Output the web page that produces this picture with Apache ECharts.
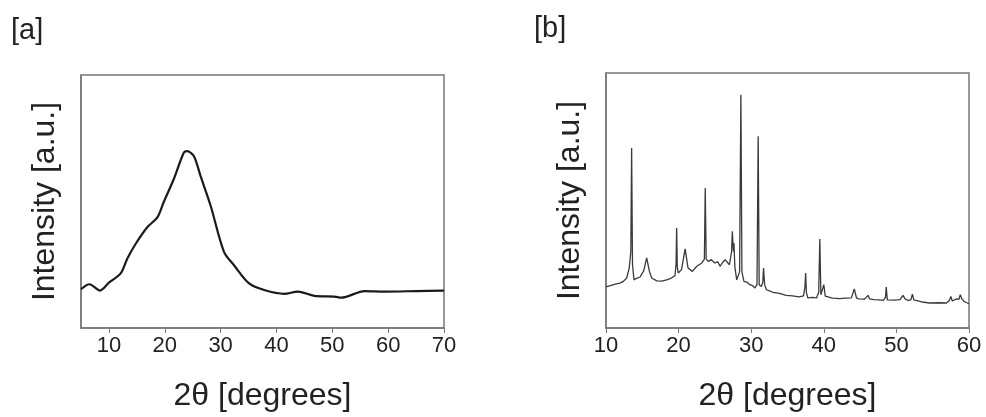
<!DOCTYPE html>
<html>
<head>
<meta charset="utf-8">
<script src="https://cdn.jsdelivr.net/npm/echarts@6/dist/echarts.min.js"></script>
<style>html,body{margin:0;padding:0;background:#fff}#c{width:986px;height:417px}</style>
</head>
<body>
<div id="c"></div>
<script>
// Panel [a] : amorphous pattern
const angleA = [5, 6.5, 8.4, 10, 12.1, 13.3, 14.8, 16.9, 18.7, 19.8, 21.6, 23.4, 24.0, 25.2, 26.4, 28.2, 30.6, 32.4, 35.1, 37.8, 41.4, 43.8, 46.8, 50.4, 51.6, 55.8, 59.4, 65, 70];
const intensityA = [15.3, 17.3, 14.8, 17.9, 21.6, 27.5, 33.3, 39.9, 43.8, 49.7, 58.8, 69.3, 69.9, 68.0, 60.1, 48.4, 30.1, 24.8, 17.6, 15.0, 13.5, 14.4, 12.7, 12.4, 12.0, 14.6, 14.4, 14.6, 14.8];
// Panel [b] : crystalline pattern
const angleB = [10, 10.6, 11.3, 11.9, 12.4, 12.85, 13.2, 13.42, 13.53, 13.65, 13.85, 14.3, 14.7, 15.2, 15.6, 16.0, 16.3, 17.0, 17.7, 18.35, 19.0, 19.5, 19.65, 19.73, 19.82, 19.95, 20.4, 20.9, 21.3, 21.9, 22.5, 23.2, 23.55, 23.67, 23.8, 24.1, 24.5, 25.0, 25.4, 25.7, 26.1, 26.4, 27.0, 27.3, 27.4, 27.55, 27.62, 27.75, 28.0, 28.4, 28.58, 28.72, 29.0, 29.4, 29.8, 30.2, 30.5, 30.8, 30.96, 31.1, 31.4, 31.6, 31.7, 31.85, 32.1, 32.5, 33.0, 33.9, 34.8, 35.7, 36.6, 37.2, 37.4, 37.5, 37.6, 37.8, 38.4, 39.0, 39.3, 39.45, 39.6, 39.8, 40.0, 40.2, 40.4, 41.2, 42.2, 43.0, 43.8, 44.2, 44.5, 44.8, 45.6, 46.1, 46.3, 46.9, 47.6, 48.2, 48.5, 48.6, 48.75, 48.9, 49.7, 50.5, 50.9, 51.2, 51.6, 52.0, 52.2, 52.4, 52.6, 53.5, 54.6, 55.8, 56.9, 57.3, 57.5, 57.7, 57.9, 58.3, 58.6, 58.8, 59.0, 59.3, 59.6, 60];
const intensityB = [16.1, 16.6, 17.2, 17.6, 18.3, 19.6, 23.5, 30, 70.6, 25, 18.9, 19.6, 20.0, 22.5, 27.5, 22, 19.6, 18.5, 18.4, 18.9, 19.6, 20.5, 25, 39.2, 24, 21.6, 22.9, 31.0, 23.5, 22.2, 24.2, 25.5, 27, 54.9, 27, 26.1, 26.8, 25.5, 26.0, 24.2, 25.8, 26.8, 24.8, 30, 37.9, 30, 33.3, 24, 18.9, 22, 91.5, 22, 18.3, 18.0, 17.0, 16.6, 15.7, 17, 75.2, 17, 16.3, 18, 23.5, 17, 15.0, 14.6, 14.0, 13.6, 12.8, 12.6, 12.2, 12.6, 16, 21.6, 14, 11.8, 12.0, 11.8, 14, 34.9, 13, 12.4, 17, 12.5, 11.9, 11.7, 11.5, 11.7, 11.8, 15.3, 11.8, 11.4, 11.3, 12.8, 11.4, 11.1, 11.0, 10.8, 12, 16.1, 11, 10.7, 10.9, 11.1, 12.8, 11.4, 10.8, 11, 13.3, 11, 10.5, 10.2, 9.8, 9.9, 9.8, 10.8, 12.4, 10.6, 10.5, 11.4, 11.2, 13.1, 11.5, 10.5, 10.0, 9.5];
const ticksA = [10, 20, 30, 40, 50, 60, 70];
const panelLabels = ['[a]', '[b]'];
const xName = '2θ [degrees]';
const yName = 'Intensity [a.u.]';

const font = 'Liberation Sans, Arial, sans-serif';
const chart = echarts.init(document.getElementById('c'));
function xAxis(gi, min, max) {
  return {
    type: 'value', gridIndex: gi, min: min, max: max, interval: 10,
    name: xName, nameLocation: 'middle', nameGap: 52,
    nameTextStyle: { fontFamily: font, fontSize: 32, color: '#222' },
    axisLine: { show: true, lineStyle: { color: '#777', width: 1.5 } },
    axisTick: { show: true, inside: false, length: 5, lineStyle: { color: '#777' } },
    axisLabel: { fontFamily: font, fontSize: 22, color: '#222', margin: 7,
      formatter: v => String(v) },
    splitLine: { show: false }
  };
}
function yAxis(gi) {
  return {
    type: 'value', gridIndex: gi, min: 0, max: 100,
    name: yName, nameLocation: 'middle', nameGap: 20, nameRotate: 90,
    nameTextStyle: { fontFamily: font, fontSize: 32, color: '#222' },
    axisLine: { show: true, lineStyle: { color: '#777', width: 1.5 } },
    axisTick: { show: false }, axisLabel: { show: false }, splitLine: { show: false }
  };
}
const xa = xAxis(0, 5, 70);
xa.axisLabel.customValues = ticksA; xa.axisTick.customValues = ticksA;
const xb = xAxis(1, 10, 60);
chart.setOption({
  animation: false,
  backgroundColor: '#fff',
  title: [
    { text: panelLabels[0], left: 6, top: 11, textStyle: { fontFamily: font, fontSize: 29, fontWeight: 'normal', color: '#222' } },
    { text: panelLabels[1], left: 529, top: 9, textStyle: { fontFamily: font, fontSize: 29, fontWeight: 'normal', color: '#222' } }
  ],
  grid: [
    { left: 81, top: 75, width: 363, height: 255, show: true, borderColor: '#777', borderWidth: 1.5, backgroundColor: 'transparent' },
    { left: 606, top: 73, width: 363, height: 255, show: true, borderColor: '#777', borderWidth: 1.5, backgroundColor: 'transparent' }
  ],
  xAxis: [xa, xb],
  yAxis: [yAxis(0), yAxis(1)],
  series: [
    { type: 'line', xAxisIndex: 0, yAxisIndex: 0, showSymbol: false, smooth: 0.3,
      data: angleA.map((x, i) => [x, intensityA[i]]),
      lineStyle: { color: '#1a1a1a', width: 2.2 } },
    { type: 'line', xAxisIndex: 1, yAxisIndex: 1, showSymbol: false,
      data: angleB.map((x, i) => [x, intensityB[i]]),
      lineStyle: { color: '#3a3a3a', width: 1.3 } }
  ]
});
</script>
</body>
</html>
